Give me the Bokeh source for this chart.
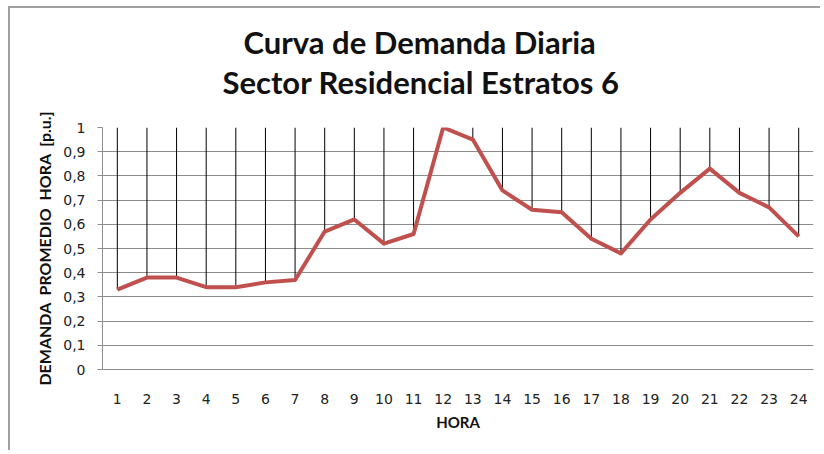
from bokeh.plotting import figure
from bokeh.models import FactorRange, Range1d, FixedTicker, Title
from bokeh.embed import file_html
from bokeh.resources import INLINE

hours = [str(h) for h in range(1, 25)]
demand = [0.33, 0.38, 0.38, 0.34, 0.34, 0.36, 0.37, 0.57, 0.62, 0.52, 0.56, 1.00,
          0.95, 0.74, 0.66, 0.65, 0.54, 0.48, 0.62, 0.73, 0.83, 0.73, 0.67, 0.55]
y_ticks = [0, 0.1, 0.2, 0.3, 0.4, 0.5, 0.6, 0.7, 0.8, 0.9, 1.0]
y_tick_labels = ["0", "0,1", "0,2", "0,3", "0,4", "0,5", "0,6", "0,7", "0,8", "0,9", "1"]
y_top = 1.0
title_lines = ["Curva de Demanda Diaria", "Sector Residencial Estratos 6"]
x_label = "HORA"
y_label = "DEMANDA\u00a0 PROMEDIO\u00a0 HORA\u00a0 [p.u.]"

p = figure(width=812, height=444, x_range=FactorRange(factors=hours),
           y_range=Range1d(0, 1), output_backend="svg", toolbar_location=None,
           min_border_left=92, min_border_right=9, min_border_top=119,
           min_border_bottom=83)
p.margin = (6, 0, 0, 8)
p.styles = {"border-top": "2px solid #a0a0a0", "border-left": "2px solid #a0a0a0"}
p.outline_line_color = None
p.background_fill_color = "white"
p.border_fill_color = "white"

# blank spacer between the plot area and the two title lines
p.add_layout(Title(text="\u00a0", text_font_size="22px", standoff=0), "above")
# titles (first added sits closest to the plot)
offsets = [141, 120]
for t, off in reversed(list(zip(title_lines, offsets))):
    p.add_layout(Title(text=t, align="left", text_font="Lato",
                       text_font_size="31px", text_font_style="bold",
                       text_line_height=0.95,
                       text_color="#111111", offset=off, standoff=0), "above")

# drop lines from top to the curve
p.segment(x0=hours, y0=[y_top] * len(hours), x1=hours, y1=demand,
          line_color="black", line_width=1)
p.line(hours, demand, line_color="#C0504D", line_width=4, line_join="round")

p.xgrid.grid_line_color = None
p.ygrid.grid_line_color = "#8c8c8c"
p.ygrid.grid_line_width = 1
p.ygrid.ticker = FixedTicker(ticks=y_ticks)

p.yaxis.ticker = FixedTicker(ticks=y_ticks)
p.yaxis.major_label_overrides = {t: l for t, l in zip(y_ticks, y_tick_labels)}
p.yaxis.axis_line_color = "#8c8c8c"
p.yaxis.major_tick_line_color = "#8c8c8c"
p.yaxis.major_tick_out = 5
p.yaxis.major_tick_in = 0
p.yaxis.minor_tick_line_color = None
p.yaxis.major_label_standoff = 12
p.yaxis.axis_label = y_label
p.yaxis.axis_label_text_font = "Lato"
p.yaxis.axis_label_text_font_style = "bold"
p.yaxis.axis_label_text_font_size = "16px"
p.yaxis.axis_label_standoff = 6

p.xaxis.axis_line_color = "#8c8c8c"
p.xaxis.major_tick_line_color = None
p.xaxis.major_label_standoff = 18
p.xaxis.axis_label = x_label
p.xaxis.axis_label_text_font = "Lato"
p.xaxis.axis_label_text_font_style = "bold"
p.xaxis.axis_label_text_font_size = "15px"
p.xaxis.axis_label_standoff = 6

for ax in (p.xaxis, p.yaxis):
    ax.major_label_text_font = "DejaVu Sans"
    ax.major_label_text_font_size = "14px"
    ax.major_label_text_color = "#222222"
    ax.axis_label_text_color = "#111111"

open("out.html", "w").write(file_html(p, INLINE))
